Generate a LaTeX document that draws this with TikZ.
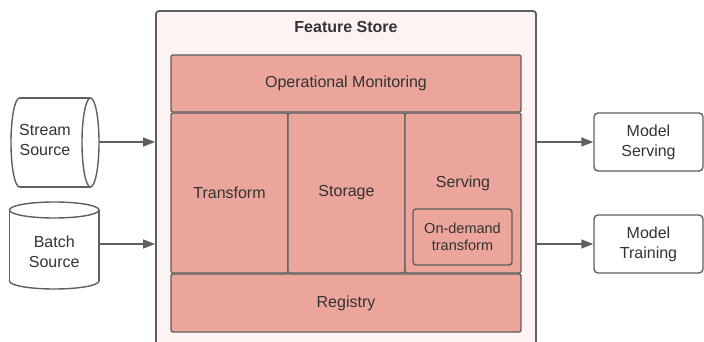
\documentclass[tikz,border=0pt]{standalone}
\usepackage{fontspec}
\setmainfont{Liberation Sans}
\usepackage{tikz}
\usetikzlibrary{positioning,arrows.meta,calc}
\definecolor{storepink}{HTML}{FDF3F2}
\definecolor{blocksalmon}{HTML}{EBA59A}
\definecolor{edgegray}{HTML}{5F5F5F}
\definecolor{inkgray}{HTML}{333333}
\tikzset{
  store/.style={draw=edgegray, line width=1.8pt, rounded corners=3pt, fill=storepink},
  block/.style={draw=edgegray, line width=1.4pt, rounded corners=2pt, fill=blocksalmon,
    align=center, text=inkgray, font=\fontsize{16}{20}\selectfont, inner sep=0pt},
  subblock/.style={block, rounded corners=3pt, font=\fontsize{14.5}{17}\selectfont},
  endpoint/.style={draw=edgegray, line width=1.4pt, rounded corners=4pt, fill=white,
    align=center, text=inkgray, font=\fontsize{16}{20}\selectfont, inner sep=0pt},
  caption/.style={text=inkgray, align=center, font=\fontsize{16}{20}\selectfont, inner sep=0pt},
  cyl/.style={draw=edgegray, line width=1.4pt, fill=white},
  cylbody/.style={fill=white},
  flow/.style={-{Triangle[length=12pt, width=9pt]}, line width=1.4pt, draw=edgegray},
}

\begin{document}
\begin{tikzpicture}[x=1pt,y=-1pt]
\useasboundingbox (0,0) rectangle (704,342);
% feature store frame
\node[store, minimum width=380, minimum height=350] (fs) at (346,186) {};
\node[caption, font=\fontsize{16}{20}\selectfont\bfseries] (title) at (346,27) {Feature Store};
% inner blocks
\node[block, minimum width=350, minimum height=57] (mon) at (346,83.5) {Operational Monitoring};
\node[block, minimum width=117, minimum height=160] (trans) at (229.5,193) {Transform};
\node[block, minimum width=117, minimum height=160] (stor) at (346.5,193) {Storage};
\node[block, minimum width=116, minimum height=160] (serv) at (463,193) {};
\node[caption] (servlabel) at (463,183) {Serving};
\node[subblock, minimum width=99, minimum height=56] (odt) at (462.5,237) {On-demand\\transform};
\node[block, minimum width=350, minimum height=58] (reg) at (346,303) {Registry};
% stream source, lying cylinder
\draw[cyl] (19.5,142.5) ellipse [x radius=8.5, y radius=44.5];
\fill[cylbody] (19.5,98) rectangle (90.5,187);
\draw[cyl] (19.5,98) -- (90.5,98) (19.5,187) -- (90.5,187);
\draw[cyl] (90.5,142.5) ellipse [x radius=8.5, y radius=44.5];
\node[caption] (stream) at (45,140) {Stream\\Source};
\coordinate (streamout) at (99,142);
% batch source, standing cylinder
\draw[cyl] (54.25,281) ellipse [x radius=44.75, y radius=8];
\fill[cylbody] (9.5,210) rectangle (99,281);
\draw[cyl] (9.5,210) -- (9.5,281) (99,210) -- (99,281);
\draw[cyl] (54.25,210) ellipse [x radius=44.75, y radius=8];
\node[caption] (batch) at (54.25,251.5) {Batch\\Source};
\coordinate (batchout) at (99,244);
% consumers
\node[endpoint, minimum width=109, minimum height=58] (mserve) at (648.5,142) {Model\\Serving};
\node[endpoint, minimum width=109, minimum height=58] (mtrain) at (648.5,244) {Model\\Training};
% flows
\draw[flow] (streamout) -- (streamout -| fs.west);
\draw[flow] (batchout) -- (batchout -| fs.west);
\draw[flow] (fs.east |- mserve.west) -- (mserve.west);
\draw[flow] (fs.east |- mtrain.west) -- (mtrain.west);
\end{tikzpicture}
\end{document}
